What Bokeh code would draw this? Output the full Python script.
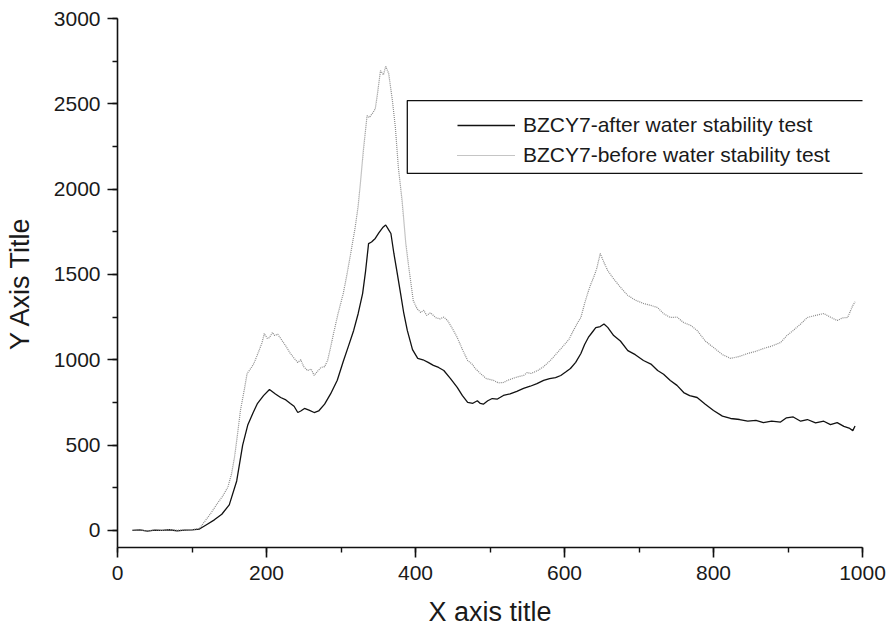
from bokeh.plotting import figure
from bokeh.models import Range1d, Legend, LegendItem, BoxAnnotation, SingleIntervalTicker
from bokeh.embed import file_html
from bokeh.resources import INLINE

# BZCY7 - after water stability test (solid black)
after_x = [20, 30, 40, 50, 60, 70, 80, 90, 100, 110, 120, 130, 140, 150, 160, 168, 175, 182, 188,
           196, 204, 212, 219, 226, 232, 237, 242, 246, 251, 257, 264, 270, 278, 286, 295, 303,
           310, 317, 323, 329, 333, 337, 341, 346, 351, 356, 360, 363, 367, 371, 375, 380, 384,
           389, 396, 403, 410, 417, 424, 431, 438, 447, 456, 463, 470, 477, 483, 487, 491, 497,
           503, 510, 518, 527, 536, 545, 554, 563, 572, 580, 588, 595, 602, 608, 615, 622, 627,
           632, 637, 642, 648, 653, 658, 666, 675, 685, 695, 706, 716, 725, 733, 742, 751, 760,
           768, 778, 789, 800, 812, 823, 835, 846, 857, 867, 878, 890, 898, 907, 917, 926, 937,
           948, 957, 966, 975, 982, 987, 990]
after_y = [0, 3, -4, 2, 0, 4, -2, 2, 3, 8, 35, 62, 95, 150, 290, 500, 620, 690, 745,
           790, 826, 800, 779, 765, 744, 728, 691, 700, 715, 705, 691, 700, 740, 800, 880, 990,
           1080, 1172, 1270, 1388, 1520, 1681, 1690, 1711, 1745, 1775, 1790, 1769, 1740, 1623, 1520, 1388, 1280,
           1172, 1060, 1008, 1000, 985, 967, 955, 937, 890, 838, 790, 750, 745, 760, 744, 740, 760,
           773, 770, 791, 800, 815, 832, 845, 860, 879, 890, 895, 908, 930, 949, 985, 1037, 1090,
           1131, 1160, 1189, 1195, 1210, 1190, 1142, 1110, 1054, 1030, 996, 975, 937, 915, 879, 850, 808,
           790, 779, 740, 703, 670, 656, 650, 640, 645, 632, 640, 635, 660, 665, 640, 650, 630,
           640, 620, 632, 610, 600, 585, 612]

# BZCY7 - before water stability test (dotted gray)
before_x = [20, 30, 40, 50, 60, 70, 80, 90, 100, 110, 118, 126, 134, 141, 148, 153, 157, 161,
            165, 170, 174, 179, 183, 186, 190, 194, 197, 201, 204, 208, 211, 215, 219, 226,
            232, 237, 242, 246, 250, 255, 260, 264, 268, 273, 278, 282, 286, 290, 296, 303,
            308, 313, 319, 323, 326, 330, 335, 338, 342, 346, 349, 353, 357, 360, 364, 369,
            373, 377, 382, 387, 391, 397, 402, 407, 411, 415, 420, 424, 428, 433, 438, 443,
            450, 456, 463, 470, 476, 480, 487, 495, 505, 511, 518, 524, 530, 537, 545, 550,
            555, 564, 572, 581, 590, 599, 606, 612, 618, 622, 627, 631, 635, 639, 643, 648,
            653, 658, 665, 671, 678, 685, 695, 706, 715, 725, 733, 742, 751, 760, 770, 778,
            789, 800, 812, 823, 835, 846, 857, 867, 878, 890, 898, 907, 917, 926, 937, 948,
            957, 966, 973, 980, 987, 990]
before_y = [0, 4, -3, 3, 0, 5, 1, 3, 4, 12, 58, 105, 158, 200, 252, 330, 427, 560,
            703, 820, 920, 950, 978, 1010, 1054, 1100, 1154, 1125, 1130, 1160, 1142, 1150, 1125, 1080,
            1037, 1010, 984, 1000, 960, 937, 945, 908, 930, 955, 960, 996, 1072, 1154, 1270, 1388,
            1500, 1623, 1775, 1900, 2033, 2226, 2431, 2420, 2443, 2470, 2560, 2695, 2670, 2720, 2678, 2519,
            2361, 2127, 1933, 1681, 1541, 1347, 1300, 1277, 1290, 1260, 1275, 1260, 1245, 1240, 1250, 1230,
            1180, 1131, 1060, 996, 975, 950, 920, 890, 879, 865, 867, 880, 890, 900, 908, 925,
            920, 937, 960, 996, 1040, 1084, 1120, 1172, 1220, 1248, 1330, 1388, 1440, 1482, 1530, 1623,
            1570, 1523, 1480, 1447, 1410, 1377, 1350, 1330, 1320, 1306, 1270, 1248, 1250, 1218, 1200, 1172,
            1110, 1072, 1030, 1008, 1020, 1037, 1050, 1066, 1080, 1101, 1140, 1172, 1210, 1248, 1260, 1271,
            1250, 1230, 1245, 1248, 1318, 1340]

after_label = "BZCY7-after water stability test"
before_label = "BZCY7-before water stability test"
x_title = "X axis title"
y_title = "Y Axis Title"

FONT = "Liberation Sans"

p = figure(width=888, height=629, output_backend="svg", toolbar_location=None,
           x_range=Range1d(0, 1000), y_range=Range1d(-100, 3000),
           min_border_left=117, min_border_right=26, min_border_top=18, min_border_bottom=82)
p.outline_line_color = None
p.xgrid.visible = False
p.ygrid.visible = False
p.background_fill_color = "white"
p.border_fill_color = "white"

r_after = p.line(after_x, after_y, line_color="#111111", line_width=1.3)
r_before = p.line(before_x, before_y, line_color="#8a8a8a", line_width=1.2, line_dash="1 1")

for ax in (p.xaxis[0], p.yaxis[0]):
    ax.axis_line_color = "#111111"
    ax.axis_line_width = 1.6
    ax.major_tick_line_color = "#111111"
    ax.major_tick_line_width = 1.6
    ax.minor_tick_line_color = "#111111"
    ax.minor_tick_line_width = 1.4
    ax.major_tick_out = 10
    ax.major_tick_in = 0
    ax.minor_tick_out = 5
    ax.minor_tick_in = 0
    ax.major_label_text_font = FONT
    ax.major_label_text_font_size = "21px"
    ax.major_label_text_color = "#1a1a1a"
    ax.axis_label_text_font = FONT
    ax.axis_label_text_font_size = "27px"
    ax.axis_label_text_font_style = "normal"
    ax.axis_label_text_color = "#1a1a1a"

p.xaxis[0].ticker = SingleIntervalTicker(interval=200, num_minor_ticks=2)
p.yaxis[0].ticker = SingleIntervalTicker(interval=500, num_minor_ticks=2)
p.xaxis[0].major_label_standoff = 8
p.yaxis[0].major_label_standoff = 7
p.xaxis[0].axis_label = x_title
p.yaxis[0].axis_label = y_title
p.xaxis[0].axis_label_standoff = 14
p.yaxis[0].axis_label_standoff = 16

box = BoxAnnotation(left=389, right=900, right_units="canvas", top=2519, bottom=2092,
                    fill_alpha=0, line_color="#111111", line_alpha=1.0, line_width=1.3)
p.add_layout(box)

legend = Legend(items=[LegendItem(label=after_label, renderers=[r_after]),
                       LegendItem(label=before_label, renderers=[r_before])],
                location=(340, 380), padding=0, margin=0, spacing=6,
                glyph_width=58, glyph_height=24, label_height=24, label_standoff=8,
                label_text_font=FONT, label_text_font_size="21px", label_text_color="#1a1a1a",
                border_line_color=None, background_fill_alpha=0)
p.add_layout(legend)

open("out.html", "w").write(file_html(p, INLINE))
